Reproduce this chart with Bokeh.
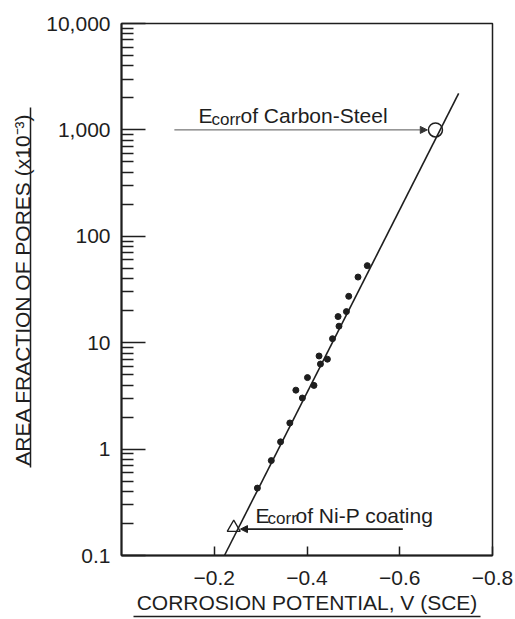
from bokeh.plotting import figure
from bokeh.models import (Range1d, FixedTicker, Label, Arrow, NormalHead, LinearAxis)
from bokeh.embed import file_html
from bokeh.resources import INLINE

# ---- data ----
potential = [-0.293, -0.323, -0.343, -0.363, -0.376, -0.390, -0.401, -0.415, -0.426,
             -0.429, -0.444, -0.455, -0.467, -0.469, -0.485, -0.490, -0.510, -0.530]
area_fraction = [0.43, 0.78, 1.17, 1.76, 3.58, 3.02, 4.7, 3.97, 7.5,
                 6.3, 7.0, 10.9, 17.6, 14.3, 19.6, 27.3, 41.4, 53.0]
fit_potential = [-0.222, -0.727]
fit_area = [0.1, 2200.0]
steel_potential = [-0.677]
steel_area = [1000.0]
nip_potential = [-0.242]
nip_area = [0.183]

y_major = [0.1, 1, 10, 100, 1000, 10000]
y_labels = ["0.1", "1", "10", "100", "1,000", "10,000"]
x_major = [-0.2, -0.4, -0.6, -0.8]
x_labels = ["\u22120.2", "\u22120.4", "\u22120.6", "\u22120.8"]

FONT = "Liberation Sans"
INK = "#1e1e1e"

p = figure(width=515, height=619, y_axis_type="log",
           x_range=Range1d(0, -0.8), y_range=Range1d(0.1, 10000),
           output_backend="svg", toolbar_location=None,
           min_border_left=121, min_border_right=23, min_border_top=23, min_border_bottom=64)
p.xgrid.visible = False
p.ygrid.visible = False
p.outline_line_color = INK
p.outline_line_width = 1.5
p.background_fill_color = "white"
p.border_fill_color = "white"

minor = []
for d in [0.1, 1, 10, 100, 1000]:
    for m in range(2, 10):
        minor.append(round(d * m, 4))

ya = p.yaxis[0]
ya.ticker = FixedTicker(ticks=y_major, minor_ticks=minor)
ya.major_label_overrides = {v: s for v, s in zip(y_major, y_labels)}
ya.major_tick_in = 24
ya.major_tick_out = 0
ya.minor_tick_in = 12
ya.minor_tick_out = 0
ya.axis_line_width = 2
ya.major_tick_line_width = 1.5
ya.minor_tick_line_width = 1.5
ya.axis_line_color = INK
ya.major_tick_line_color = INK
ya.minor_tick_line_color = INK
ya.major_label_text_font = FONT
ya.major_label_text_font_size = "21px"
ya.major_label_text_color = INK
ya.major_label_standoff = 11

# invisible spacer between the tick labels and the y title's underline
gap = LinearAxis(ticker=FixedTicker(ticks=[1], minor_ticks=[]),
                 major_tick_in=0, major_tick_out=13, minor_tick_in=0, minor_tick_out=0,
                 major_label_standoff=0, major_label_overrides={1: ""},
                 major_label_text_font_size="0px", axis_line_color=None,
                 major_tick_line_color=None, minor_tick_line_color=None)
p.add_layout(gap, "left")

# y title carried by a bare axis whose line (bounded) is the title's underline
yt = LinearAxis(ticker=FixedTicker(ticks=[], minor_ticks=[]), bounds=(0.665, 1618),
                major_tick_in=0, major_tick_out=0, minor_tick_in=0, minor_tick_out=0,
                major_label_standoff=0, axis_line_width=1.5, axis_line_color=INK,
                axis_label="AREA FRACTION OF PORES (x10\u207b\u00b3)",
                axis_label_text_font=FONT, axis_label_text_font_size="21px",
                axis_label_text_font_style="normal", axis_label_text_color=INK,
                axis_label_standoff=-3)
p.add_layout(yt, "left")

xa = p.xaxis[0]
xa.ticker = FixedTicker(ticks=x_major, minor_ticks=[])
xa.major_label_overrides = {v: s for v, s in zip(x_major, x_labels)}
xa.major_tick_in = 9
xa.major_tick_out = 0
xa.minor_tick_in = 0
xa.minor_tick_out = 0
xa.axis_line_width = 2
xa.major_tick_line_width = 1.5
xa.axis_line_color = INK
xa.major_tick_line_color = INK
xa.major_label_text_font = FONT
xa.major_label_text_font_size = "21px"
xa.major_label_text_color = INK
xa.major_label_standoff = 15
xa.axis_label = "CORROSION POTENTIAL, V (SCE)"
xa.axis_label_text_font = FONT
xa.axis_label_text_font_size = "21px"
xa.axis_label_text_font_style = "normal"
xa.axis_label_text_color = INK
xa.axis_label_standoff = 3

# underline of the x title: a bare axis line below the x axis, bounded to the title width
ul = LinearAxis(ticker=FixedTicker(ticks=[], minor_ticks=[]), bounds=(-0.7741, -0.0259),
                major_tick_in=0, major_tick_out=0, minor_tick_in=0, minor_tick_out=0,
                major_label_standoff=0, axis_line_width=1.5, axis_line_color=INK)
p.add_layout(ul, "below")

# fitted line
p.line(fit_potential, fit_area, line_color=INK, line_width=1.6)
# measurements
p.scatter(potential, area_fraction, size=6, color=INK)
# Ecorr markers
p.scatter(steel_potential, steel_area, marker="circle", size=14, fill_alpha=0,
          line_color=INK, line_width=1.5)
p.scatter(nip_potential, nip_area, marker="triangle", size=13, fill_alpha=0,
          line_color=INK, line_width=1.3)

# arrows
p.add_layout(Arrow(x_start=-0.114, y_start=1000, x_end=-0.6594, y_end=1000,
                   line_color="#555555", line_width=1,
                   end=NormalHead(size=7, fill_color="#333333", line_color="#333333")))
p.add_layout(Arrow(x_start=-0.6066, y_start=0.177, x_end=-0.2566, y_end=0.177,
                   line_color=INK, line_width=1.8,
                   end=NormalHead(size=7, fill_color=INK, line_color=INK)))

# annotation texts
def ecorr(x, y_main, y_sub, rest, sub_off, rest_off):
    p.add_layout(Label(x=x, y=y_main, text="E", text_font=FONT, text_font_size="21px",
                       text_color=INK, text_baseline="alphabetic"))
    p.add_layout(Label(x=x, y=y_sub, x_offset=sub_off, text="corr", text_font=FONT,
                       text_font_size="17px", text_color=INK, text_baseline="alphabetic"))
    p.add_layout(Label(x=x, y=y_main, x_offset=rest_off, text=rest, text_font=FONT,
                       text_font_size="21px", text_color=INK, text_baseline="alphabetic"))

ecorr(-0.1660, 1361, 1263, "of Carbon-Steel", 13, 42)
ecorr(-0.2890, 0.236, 0.224, "of Ni-P coating", 12, 40)

open("out.html", "w").write(file_html(p, INLINE))
